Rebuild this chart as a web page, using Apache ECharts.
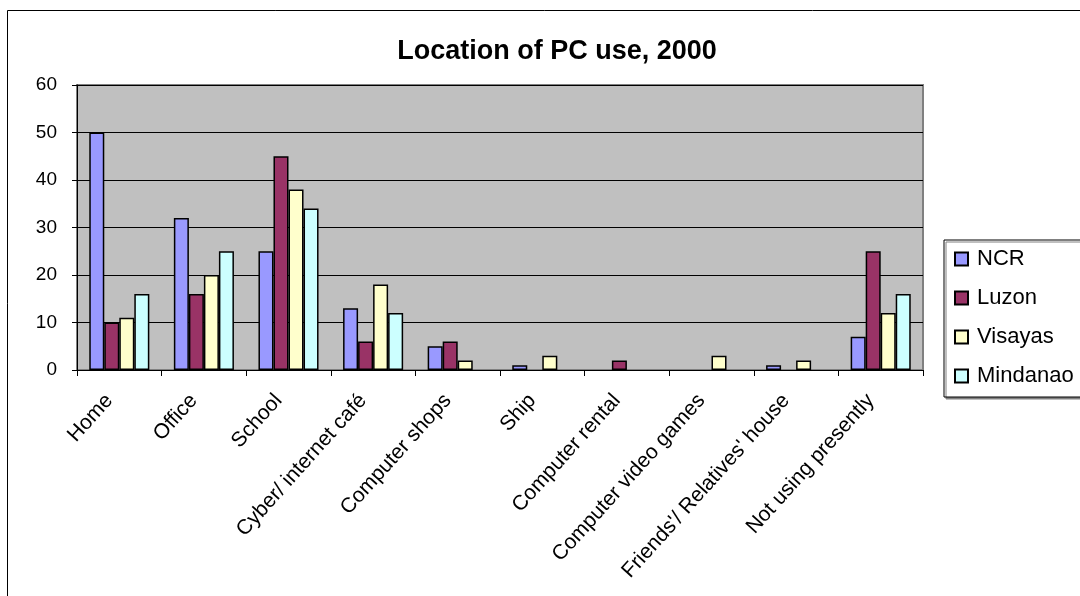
<!DOCTYPE html>
<html>
<head>
<meta charset="utf-8">
<script src="https://cdn.jsdelivr.net/npm/echarts@6/dist/echarts.min.js"></script>
<style>
html,body{margin:0;padding:0;background:#fff;}
#chart{width:1080px;height:596px;}
</style>
</head>
<body>
<div id="chart"></div>
<script>
var categories = ['Home', 'Office', 'School', 'Cyber/ internet café', 'Computer shops', 'Ship', 'Computer rental', 'Computer video games', "Friends'/ Relatives' house", 'Not using presently'];
var seriesNames = ['NCR', 'Luzon', 'Visayas', 'Mindanao'];
var ncr      = [50, 32, 25, 13, 5, 1, null, null, 1, 7];
var luzon    = [10, 16, 45, 6, 6, null, 2, null, null, 25];
var visayas  = [11, 20, 38, 18, 2, 3, null, 3, 2, 12];
var mindanao = [16, 25, 34, 12, null, null, null, null, null, 16];
var yTicks = [0, 10, 20, 30, 40, 50, 60];
var colors = ['#9999FF', '#993366', '#FFFFCC', '#CCFFFF'];

var font = '"Liberation Sans", Arial, sans-serif';
var dataSets = [ncr, luzon, visayas, mindanao];
var chart = echarts.init(document.getElementById('chart'), null, {renderer: 'canvas'});
chart.setOption({
  animation: false,
  backgroundColor: '#ffffff',
  title: {
    text: 'Location of PC use, 2000',
    left: 552, top: 33, textAlign: 'center',
    textStyle: {fontFamily: font, fontWeight: 'bold', fontSize: 27, color: '#000'}
  },
  graphic: [{
    type: 'rect', z: -10, silent: true,
    shape: {x: 7.5, y: 10.5, width: 1100, height: 620},
    style: {fill: null, stroke: '#000', lineWidth: 1}
  }],
  legend: {
    orient: 'vertical',
    left: 944, top: 240,
    padding: [7, 40, 9, 10],
    itemGap: 15,
    itemWidth: 13, itemHeight: 13,
    icon: 'rect',
    backgroundColor: '#fff',
    borderColor: '#000', borderWidth: 1,
    shadowColor: '#808080', shadowOffsetX: 2, shadowOffsetY: 2, shadowBlur: 0,
    textStyle: {fontFamily: font, fontSize: 22, color: '#000', lineHeight: 24, padding: [0,0,0,4]},
    data: seriesNames
  },
  grid: {
    left: 77, top: 85, right: 157, bottom: 226,
    show: true, backgroundColor: '#C0C0C0', borderColor: '#808080', borderWidth: 2
  },
  xAxis: {
    type: 'category',
    data: categories,
    axisLine: {lineStyle: {color: '#000', width: 1}},
    axisTick: {show: true, length: 6, lineStyle: {color: '#000'}},
    axisLabel: {rotate: 48, interval: 0, margin: 16, padding: [0, 15, 0, 0], fontFamily: font, fontSize: 21, color: '#000'}
  },
  yAxis: {
    type: 'value', min: yTicks[0], max: yTicks[yTicks.length-1], interval: 10,
    axisLine: {show: true, lineStyle: {color: '#000', width: 1}},
    axisTick: {show: true, length: 5, lineStyle: {color: '#000'}},
    axisLabel: {fontFamily: font, fontSize: 19, color: '#000', margin: 20},
    splitLine: {show: true, lineStyle: {color: '#000', width: 1}}
  },
  series: seriesNames.map(function(n, i){
    return {
      name: n, type: 'bar',
      data: dataSets[i],
      barGap: '0%', barCategoryGap: '29%',
      itemStyle: {color: colors[i], borderColor: '#000', borderWidth: 1.5}
    };
  })
});
</script>
</body>
</html>
